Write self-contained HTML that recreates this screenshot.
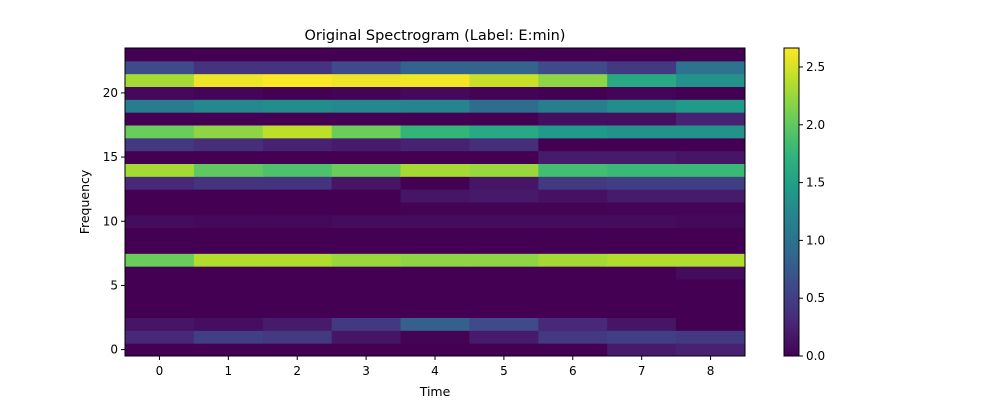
<!DOCTYPE html>
<html><head><meta charset="utf-8"><style>
body{margin:0;background:#fff;font-family:"Liberation Sans","DejaVu Sans",sans-serif}
svg text{font-family:"DejaVu Sans","Liberation Sans",sans-serif}
</style></head><body>
<svg id="c" width="1000" height="400" xmlns="http://www.w3.org/2000/svg"></svg>
<script>
const timeLabels=[0,1,2,3,4,5,6,7,8];
const yTicks=[0,5,10,15,20];
const cbTicks=[0,0.5,1.0,1.5,2.0,2.5];
// rows from frequency 0 (bottom) to 23 (top)
const r0=[0,0,0,0,0,0,0,0.2,0.25];
const r1=[0.3,0.5,0.45,0.15,0.02,0.2,0.45,0.5,0.45];
const r2=[0.15,0.1,0.2,0.45,0.8,0.6,0.3,0.15,0];
const r3=[0,0,0,0,0,0,0,0,0];
const r4=[0,0,0,0,0,0,0,0,0];
const r5=[0,0,0,0,0,0,0,0,0];
const r6=[0,0,0,0,0,0,0,0,0.08];
const r7=[2.05,2.35,2.35,2.25,2.2,2.2,2.3,2.35,2.35];
const r8=[0,0,0,0,0,0,0,0,0];
const r9=[0,0,0,0,0,0,0,0,0];
const r10=[0.08,0.05,0.05,0.08,0.08,0.08,0.08,0.08,0.06];
const r11=[0,0,0,0,0.02,0.02,0.02,0.03,0.03];
const r12=[0,0,0,0,0.15,0.18,0.12,0.2,0.2];
const r13=[0.3,0.4,0.4,0.15,0,0.15,0.45,0.5,0.5];
const r14=[2.3,2.0,1.9,2.05,2.3,2.25,1.85,1.8,1.8];
const r15=[0,0,0,0,0,0,0.2,0.2,0.15];
const r16=[0.45,0.35,0.25,0.2,0.25,0.35,0,0,0];
const r17=[2.05,2.2,2.4,2.05,1.75,1.6,1.45,1.35,1.35];
const r18=[0,0,0,0,0,0,0.1,0.1,0.25];
const r19=[1.1,1.25,1.3,1.25,1.2,0.95,1.15,1.3,1.45];
const r20=[0.05,0.03,0,0.02,0.06,0.02,0,0.03,0];
const r21=[2.3,2.6,2.65,2.6,2.62,2.45,2.2,1.6,1.35];
const r22=[0.6,0.4,0.4,0.6,0.85,0.85,0.6,0.45,1.0];
const r23=[0,0,0,0,0,0,0,0,0];
const rows=[r0,r1,r2,r3,r4,r5,r6,r7,r8,r9,r10,r11,r12,r13,r14,r15,r16,r17,r18,r19,r20,r21,r22,r23];
const vmax=2.664;

const V=[[68,1,84],[72,40,120],[62,73,137],[49,104,142],[38,130,142],[31,158,137],[53,183,121],[110,206,88],[181,222,43],[253,231,37]];
function vir(t){t=Math.max(0,Math.min(1,t))*(V.length-1);const i=Math.min(V.length-2,Math.floor(t)),f=t-i;
const c=V[i].map((a,k)=>Math.round(a+(V[i+1][k]-a)*f));return `rgb(${c[0]},${c[1]},${c[2]})`;}

const L=125,R=745,T=48,B=356;
const nx=timeLabels.length,ny=rows.length;
const cw=(R-L)/nx,ch=(B-T)/ny;
const xs=i=>L+cw*(i+0.5);
const ys=j=>B-ch*(j+0.5);
const svg=document.getElementById('c');
const NS='http://www.w3.org/2000/svg';
function mk(tag,at,txt){const e=document.createElementNS(NS,tag);for(const k in at)e.setAttribute(k,at[k]);if(txt!==undefined)e.textContent=txt;svg.appendChild(e);return e;}

rows.forEach((row,j)=>row.forEach((v,i)=>{
 const r=mk('rect',{x:(xs(i)-cw/2).toFixed(2),y:(ys(j)-ch/2).toFixed(2),width:(cw+0.5).toFixed(2),height:(ch+0.5).toFixed(2),fill:vir(v/vmax)});
 
 
}));
const fr=mk('rect',{x:L,y:T,width:R-L,height:B-T,fill:'none',stroke:'#000','stroke-width':1});



timeLabels.forEach((t,i)=>{
 mk('line',{x1:xs(i),x2:xs(i),y1:B,y2:B+4,stroke:'#000'});
 const tx=mk('text',{x:xs(i),y:B+19,'font-size':12,'text-anchor':'middle'},t);
 
 
});
yTicks.forEach(v=>{
 const y=B-ch*(v+0.5);
 mk('line',{x1:L-4,x2:L,y1:y,y2:y,stroke:'#000'});
 const tx=mk('text',{x:L-7,y:y+4,'font-size':12,'text-anchor':'end'},v);
 
 
});
const ti=mk('text',{x:435,y:40,'font-size':14.5,'text-anchor':'middle'},'Original Spectrogram (Label: E:min)');


const xl=mk('text',{x:435,y:396,'font-size':12.5,'text-anchor':'middle'},'Time');


const yl=mk('text',{x:89,y:202,'font-size':12.5,'text-anchor':'middle',transform:'rotate(-90 89 202)'},'Frequency');



// colorbar
const defs=mk('defs',{});
const g=document.createElementNS(NS,'linearGradient');
g.setAttribute('id','vg');g.setAttribute('x1','0');g.setAttribute('y1','1');g.setAttribute('x2','0');g.setAttribute('y2','0');
for(let k=0;k<=20;k++){const s=document.createElementNS(NS,'stop');s.setAttribute('offset',k/20);s.setAttribute('stop-color',vir(k/20));g.appendChild(s);}
defs.appendChild(g);
const CL=784,CR=799;
const cb=mk('rect',{x:CL,y:T,width:CR-CL,height:B-T,fill:'url(#vg)',stroke:'#000','stroke-width':1});


cbTicks.forEach(v=>{
 const y=B-(B-T)*v/vmax;
 mk('line',{x1:CR,x2:CR+4,y1:y,y2:y,stroke:'#000'});
 const tx=mk('text',{x:CR+7,y:y+4,'font-size':12},v.toFixed(1));
 
 
});
</script>
</body></html>
